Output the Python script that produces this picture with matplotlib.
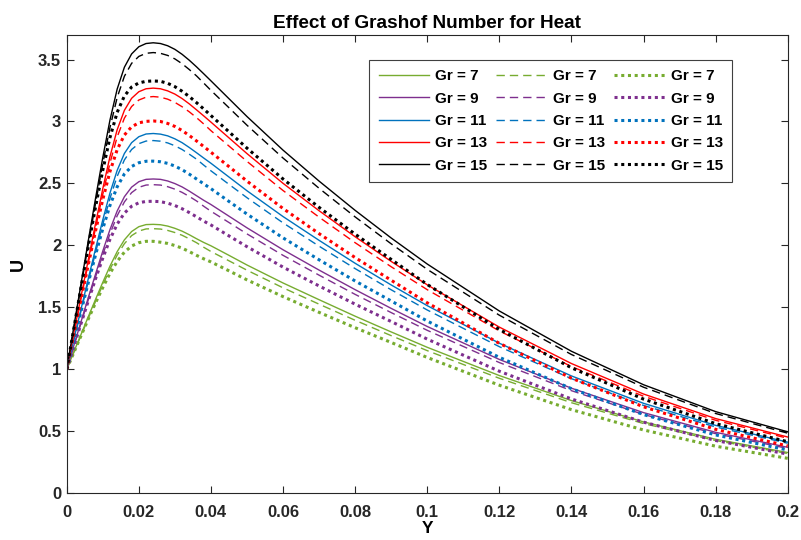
import numpy as np
import matplotlib
matplotlib.use("Agg")
import matplotlib.pyplot as plt

# ---- data ----
y_vals = [0, 0.002, 0.004, 0.006, 0.008, 0.010, 0.012, 0.014, 0.016, 0.018, 0.020, 0.022, 0.024,
          0.026, 0.028, 0.030, 0.032, 0.034, 0.036, 0.038, 0.040, 0.045, 0.050, 0.060, 0.070,
          0.080, 0.090, 0.100, 0.120, 0.140, 0.160, 0.180, 0.200]
gr_values = [7, 9, 11, 13, 15]

# solid lines
u_solid_7 = [1.0, 1.143, 1.284, 1.426, 1.565, 1.702, 1.833, 1.950, 2.045, 2.112, 2.151, 2.168, 2.170,
             2.167, 2.156, 2.138, 2.115, 2.086, 2.054, 2.024, 1.997, 1.920, 1.842, 1.697, 1.562,
             1.429, 1.302, 1.178, 0.950, 0.748, 0.576, 0.436, 0.329]
u_solid_9 = [1.0, 1.195, 1.387, 1.580, 1.769, 1.954, 2.128, 2.278, 2.393, 2.470, 2.514, 2.533, 2.536,
             2.533, 2.520, 2.499, 2.472, 2.438, 2.401, 2.364, 2.330, 2.236, 2.142, 1.965, 1.801,
             1.643, 1.492, 1.346, 1.080, 0.848, 0.651, 0.492, 0.371]
u_solid_11 = [1.0, 1.246, 1.490, 1.734, 1.973, 2.206, 2.423, 2.606, 2.742, 2.829, 2.877, 2.899, 2.903,
              2.898, 2.884, 2.860, 2.829, 2.790, 2.748, 2.705, 2.663, 2.552, 2.441, 2.233, 2.041,
              1.856, 1.681, 1.514, 1.211, 0.947, 0.726, 0.548, 0.413]
u_solid_13 = [1.0, 1.298, 1.593, 1.887, 2.177, 2.457, 2.717, 2.934, 3.090, 3.187, 3.240, 3.264, 3.269,
              3.264, 3.247, 3.221, 3.185, 3.142, 3.094, 3.045, 2.995, 2.868, 2.741, 2.501, 2.280,
              2.070, 1.871, 1.682, 1.341, 1.047, 0.801, 0.603, 0.454]
u_solid_15 = [1.0, 1.349, 1.696, 2.041, 2.381, 2.709, 3.012, 3.262, 3.438, 3.545, 3.603, 3.629, 3.635,
              3.629, 3.611, 3.582, 3.542, 3.494, 3.441, 3.385, 3.328, 3.184, 3.040, 2.769, 2.519,
              2.283, 2.060, 1.850, 1.471, 1.146, 0.876, 0.659, 0.496]

# dashed lines
u_dash_7 = [1.0, 1.139, 1.275, 1.413, 1.548, 1.681, 1.808, 1.922, 2.014, 2.079, 2.116, 2.133, 2.135,
            2.132, 2.121, 2.104, 2.082, 2.053, 2.022, 1.985, 1.951, 1.876, 1.800, 1.658, 1.526,
            1.396, 1.272, 1.151, 0.928, 0.731, 0.563, 0.426, 0.321]
u_dash_9 = [1.0, 1.189, 1.375, 1.563, 1.746, 1.925, 2.094, 2.240, 2.351, 2.426, 2.469, 2.487, 2.490,
            2.487, 2.474, 2.454, 2.428, 2.395, 2.359, 2.316, 2.276, 2.185, 2.093, 1.920, 1.760,
            1.605, 1.458, 1.315, 1.055, 0.828, 0.636, 0.481, 0.362]
u_dash_11 = [1.0, 1.239, 1.475, 1.712, 1.944, 2.170, 2.380, 2.558, 2.690, 2.774, 2.821, 2.842, 2.846,
             2.841, 2.827, 2.804, 2.774, 2.736, 2.696, 2.648, 2.602, 2.493, 2.385, 2.182, 1.994,
             1.813, 1.642, 1.479, 1.183, 0.925, 0.709, 0.535, 0.404]
u_dash_13 = [1.0, 1.289, 1.575, 1.860, 2.142, 2.413, 2.665, 2.876, 3.027, 3.121, 3.173, 3.196, 3.201,
             3.196, 3.180, 3.154, 3.119, 3.078, 3.031, 2.980, 2.926, 2.802, 2.678, 2.443, 2.228,
             2.022, 1.828, 1.643, 1.310, 1.023, 0.783, 0.589, 0.444]
u_dash_15 = [1.0, 1.339, 1.675, 2.010, 2.340, 2.658, 2.952, 3.194, 3.365, 3.469, 3.525, 3.550, 3.556,
             3.550, 3.533, 3.505, 3.466, 3.419, 3.368, 3.310, 3.251, 3.111, 2.970, 2.705, 2.461,
             2.230, 2.013, 1.807, 1.437, 1.120, 0.856, 0.644, 0.485]

# dotted lines
u_dot_7 = [1.0, 1.137, 1.273, 1.407, 1.537, 1.660, 1.775, 1.871, 1.946, 1.995, 2.022, 2.033, 2.033,
           2.026, 2.016, 1.999, 1.978, 1.950, 1.920, 1.892, 1.867, 1.795, 1.722, 1.587, 1.460,
           1.336, 1.217, 1.096, 0.872, 0.675, 0.511, 0.380, 0.282]
u_dot_9 = [1.0, 1.187, 1.372, 1.554, 1.731, 1.897, 2.049, 2.172, 2.261, 2.316, 2.344, 2.355, 2.356,
           2.353, 2.341, 2.322, 2.296, 2.265, 2.231, 2.196, 2.165, 2.077, 1.990, 1.825, 1.673,
           1.526, 1.386, 1.244, 0.985, 0.761, 0.574, 0.426, 0.316]
u_dot_11 = [1.0, 1.236, 1.470, 1.701, 1.924, 2.134, 2.323, 2.473, 2.577, 2.637, 2.667, 2.679, 2.680,
            2.675, 2.662, 2.640, 2.611, 2.575, 2.536, 2.497, 2.458, 2.355, 2.253, 2.061, 1.884,
            1.713, 1.552, 1.390, 1.097, 0.844, 0.635, 0.471, 0.349]
u_dot_13 = [1.0, 1.286, 1.569, 1.847, 2.118, 2.370, 2.597, 2.773, 2.891, 2.957, 2.989, 3.001, 3.004,
            3.000, 2.984, 2.960, 2.927, 2.887, 2.843, 2.798, 2.752, 2.636, 2.519, 2.298, 2.095,
            1.902, 1.719, 1.537, 1.210, 0.929, 0.698, 0.516, 0.382]
u_dot_15 = [1.0, 1.335, 1.668, 1.994, 2.312, 2.606, 2.871, 3.074, 3.206, 3.278, 3.311, 3.324, 3.327,
            3.324, 3.308, 3.281, 3.244, 3.201, 3.152, 3.101, 3.048, 2.917, 2.785, 2.536, 2.307,
            2.091, 1.887, 1.685, 1.322, 1.013, 0.760, 0.562, 0.416]

x_tick_labels = ['0', '0.02', '0.04', '0.06', '0.08', '0.1', '0.12', '0.14', '0.16', '0.18', '0.2']
y_tick_labels = ['0', '0.5', '1', '1.5', '2', '2.5', '3', '3.5']

# ---- style ----
colors = ['#77AC30', '#7E2F8E', '#0072BD', '#FF0000', '#000000']
axis_grey = '#262626'

plt.rcParams['font.family'] = ['Liberation Sans', 'DejaVu Sans']
plt.rcParams['font.weight'] = 'bold'

fig = plt.figure(figsize=(8.01, 5.40), dpi=100)
ax = fig.add_axes([0.0833, 0.0865, 0.9001, 0.8492])

solid_sets = [u_solid_7, u_solid_9, u_solid_11, u_solid_13, u_solid_15]
dash_sets = [u_dash_7, u_dash_9, u_dash_11, u_dash_13, u_dash_15]
dot_sets = [u_dot_7, u_dot_9, u_dot_11, u_dot_13, u_dot_15]

handles = []
labels = []
for u, c, gr in zip(solid_sets, colors, gr_values):
    h, = ax.plot(y_vals, u, color=c, lw=1.0, ls='-')
    handles.append(h)
    labels.append(f'Gr = {gr}')
for u, c, gr in zip(dash_sets, colors, gr_values):
    h, = ax.plot(y_vals, u, color=c, lw=1.0, ls=(0, (6, 3.6)))
    handles.append(h)
    labels.append(f'Gr = {gr}')
for u, c, gr in zip(dot_sets, colors, gr_values):
    h, = ax.plot(y_vals, u, color=c, lw=2.2, ls=(0, (1, 1.2)))
    handles.append(h)
    labels.append(f'Gr = {gr}')

ax.set_xlim(0, 0.2)
ax.set_ylim(0, 3.7)
ax.set_xticks(np.linspace(0, 0.2, 11))
ax.set_xticklabels(x_tick_labels)
ax.set_yticks(np.arange(0, 3.6, 0.5))
ax.set_yticklabels(y_tick_labels)

ax.tick_params(direction='in', length=5, width=0.8, top=True, right=True,
               labelsize=12, colors=axis_grey, labelcolor=axis_grey)
ax.tick_params(axis='x', pad=8.5)
ax.tick_params(axis='y', pad=4)
for sp in ax.spines.values():
    sp.set_color(axis_grey)
    sp.set_linewidth(0.8)

ax.set_title('Effect of Grashof Number for Heat', fontsize=13.7, fontweight='bold', pad=4.6)
ax.set_xlabel('Y', fontsize=12.5, fontweight='bold', labelpad=1.0)
ax.set_ylabel('U', fontsize=13, fontweight='bold', labelpad=8)

leg = ax.legend(handles, labels, ncol=3, loc='upper right', bbox_to_anchor=(0.9228, 0.9448),
                borderaxespad=0, prop={'size': 11, 'weight': 'bold'}, handlelength=3.3,
                handletextpad=0.4, columnspacing=0.6, labelspacing=0.55, borderpad=0.6,
                fancybox=False, framealpha=1, edgecolor='#404040')
leg.get_frame().set_linewidth(0.8)

fig.savefig('out.png', dpi=100)
